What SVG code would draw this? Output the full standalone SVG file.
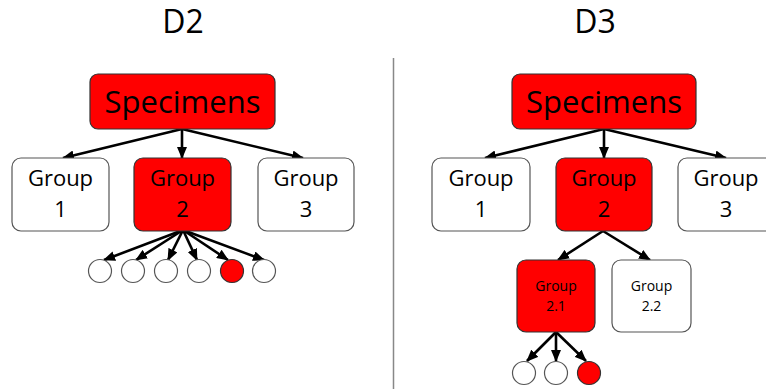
<svg xmlns="http://www.w3.org/2000/svg" width="766" height="389" viewBox="0 0 766 389">
<defs>
<marker id="ah" markerUnits="userSpaceOnUse" markerWidth="12" markerHeight="10" viewBox="0 0 12 10" refX="11" refY="5" orient="auto">
<path d="M0,0 L12,5 L0,10 Z" fill="#000"/>
</marker>
<style>
.t{font-family:"Open Sans","DejaVu Sans",sans-serif;fill:#000;text-anchor:middle}
.red{fill:#ff0000;stroke:#333;stroke-width:1.2}
.wht{fill:#fff;stroke:#555;stroke-width:1.2}
.c{stroke:#000;stroke-width:2.6;fill:none;marker-end:url(#ah)}
.big{font-size:31px}
.mid{font-size:22px}
.sm{font-size:14px}
</style>
</defs>
<rect width="766" height="389" fill="#fff"/>
<text class="t" x="183" y="33" font-size="32">D2</text>
<text class="t" x="595" y="33" font-size="32">D3</text>
<line x1="393.5" y1="58" x2="393.5" y2="389" stroke="#888" stroke-width="1.5"/>

<g id="connectors">
<line class="c" x1="182" y1="129" x2="63" y2="158"/>
<line class="c" x1="182" y1="129" x2="182" y2="158"/>
<line class="c" x1="182" y1="129" x2="303" y2="158"/>
<line class="c" x1="183" y1="230" x2="104" y2="260"/>
<line class="c" x1="183" y1="230" x2="136" y2="260"/>
<line class="c" x1="183" y1="230" x2="168" y2="260"/>
<line class="c" x1="183" y1="230" x2="197" y2="260"/>
<line class="c" x1="183" y1="230" x2="228" y2="260"/>
<line class="c" x1="183" y1="230" x2="264" y2="260"/>
<line class="c" x1="604" y1="129" x2="485" y2="158"/>
<line class="c" x1="604" y1="129" x2="604" y2="158"/>
<line class="c" x1="604" y1="129" x2="726" y2="158"/>
<line class="c" x1="603" y1="231" x2="558" y2="260"/>
<line class="c" x1="603" y1="231" x2="650" y2="260"/>
<line class="c" x1="556" y1="332" x2="527" y2="361"/>
<line class="c" x1="556" y1="332" x2="556" y2="361"/>
<line class="c" x1="556" y1="332" x2="586" y2="361"/>
</g>

<g id="d2-specimens"><rect class="red" x="90" y="74" width="185" height="55" rx="8"/><text class="t big" x="182.5" y="113">Specimens</text></g>
<g id="d2-group1"><rect class="wht" x="12" y="158" width="97" height="73" rx="9"/><text class="t mid" x="60.5" y="186">Group</text><text class="t mid" x="60.5" y="217">1</text></g>
<g id="d2-group2"><rect class="red" x="134" y="158" width="97" height="73" rx="9"/><text class="t mid" x="182.5" y="186">Group</text><text class="t mid" x="182.5" y="217">2</text></g>
<g id="d2-group3"><rect class="wht" x="258" y="158" width="96" height="73" rx="9"/><text class="t mid" x="306" y="186">Group</text><text class="t mid" x="306" y="217">3</text></g>
<g id="d2-leaves">
<circle class="wht" cx="100" cy="271" r="11.5"/>
<circle class="wht" cx="133" cy="271" r="11.5"/>
<circle class="wht" cx="166" cy="271" r="11.5"/>
<circle class="wht" cx="199" cy="271" r="11.5"/>
<circle class="red" cx="232" cy="271" r="11.5"/>
<circle class="wht" cx="264" cy="271" r="11.5"/>
</g>

<g id="d3-specimens"><rect class="red" x="512" y="74" width="184" height="55" rx="8"/><text class="t big" x="604" y="113">Specimens</text></g>
<g id="d3-group1"><rect class="wht" x="432" y="158" width="98" height="73" rx="9"/><text class="t mid" x="481" y="186">Group</text><text class="t mid" x="481" y="217">1</text></g>
<g id="d3-group2"><rect class="red" x="556" y="158" width="96" height="73" rx="9"/><text class="t mid" x="604" y="186">Group</text><text class="t mid" x="604" y="217">2</text></g>
<g id="d3-group3"><rect class="wht" x="678" y="158" width="97" height="73" rx="9"/><text class="t mid" x="726" y="186">Group</text><text class="t mid" x="726" y="217">3</text></g>
<g id="d3-group21"><rect class="red" x="517" y="260" width="78" height="72" rx="9"/><text class="t sm" x="556" y="291">Group</text><text class="t sm" x="556" y="311">2.1</text></g>
<g id="d3-group22"><rect class="wht" x="612" y="260" width="79" height="72" rx="9"/><text class="t sm" x="651.5" y="291">Group</text><text class="t sm" x="651.5" y="311">2.2</text></g>
<g id="d3-leaves">
<circle class="wht" cx="524" cy="373" r="11.5"/>
<circle class="wht" cx="556" cy="373" r="11.5"/>
<circle class="red" cx="589" cy="373" r="11.5"/>
</g>
</svg>
